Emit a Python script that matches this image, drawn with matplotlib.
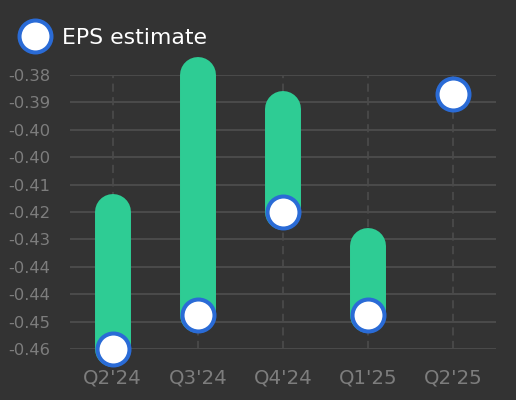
import matplotlib
matplotlib.use("Agg")
import matplotlib.pyplot as plt
import numpy as np

categories = ["Q2'24", "Q3'24", "Q4'24", "Q1'25", "Q2'25"]
eps_estimate = [-0.46, -0.45, -0.42, -0.45, -0.3855]
eps_actual = [-0.42, -0.38, -0.39, -0.43, None]
y_ticks = [-0.46, -0.452, -0.444, -0.436, -0.428, -0.42, -0.412, -0.404, -0.396, -0.388, -0.38]

plt.rcParams['axes.unicode_minus'] = False
plt.rcParams['font.family'] = ['DejaVu Sans']

BG = '#333333'
GREEN = '#2ecc94'
BLUE = '#2a6bd6'
GRID = '#4a4a4a'
TICK = '#7d7d7d'

fig = plt.figure(figsize=(5.16, 4.0), dpi=100, facecolor=BG)
ax = fig.add_axes([70/516, 1-349/400, (496-70)/516, (349-75)/400])
ax.set_facecolor(BG)

x = np.arange(len(categories))
for i, (e, a) in enumerate(zip(eps_estimate, eps_actual)):
    if a is not None:
        ax.plot([x[i], x[i]], [e, a], color=GREEN, lw=25.9,
                solid_capstyle='round', zorder=3, clip_on=False)

ax.plot(x, eps_estimate, linestyle='none', marker='o', markersize=23,
        markerfacecolor='white', markeredgecolor=BLUE, markeredgewidth=2.9,
        zorder=4, clip_on=False, label='EPS estimate')

ax.set_xlim(-0.5, len(categories) - 0.5)
ax.set_ylim(-0.46, -0.38)
ax.set_xticks(x)
ax.set_xticklabels(categories)
ax.set_yticks(y_ticks)
ax.set_yticklabels(['%.2f' % v for v in y_ticks])

ax.tick_params(axis='y', length=0, pad=14, labelsize=11.8, labelcolor=TICK)
ax.tick_params(axis='x', length=0, pad=14, labelsize=14.2, labelcolor=TICK)
for s in ax.spines.values():
    s.set_visible(False)

ax.grid(axis='y', color=GRID, linewidth=1.5, linestyle='-', zorder=0)
ax.grid(axis='x', color=GRID, linewidth=1.3, linestyle=(0, (4.5, 3)), zorder=0)
ax.set_axisbelow(True)

leg = fig.legend(loc='center left', bbox_to_anchor=(13/516, 1-37.5/400), frameon=False,
                 fontsize=15.8, labelcolor='white', handletextpad=0.25,
                 borderaxespad=0.0, borderpad=0.0)

fig.savefig('out.png', dpi=100, facecolor=BG)
